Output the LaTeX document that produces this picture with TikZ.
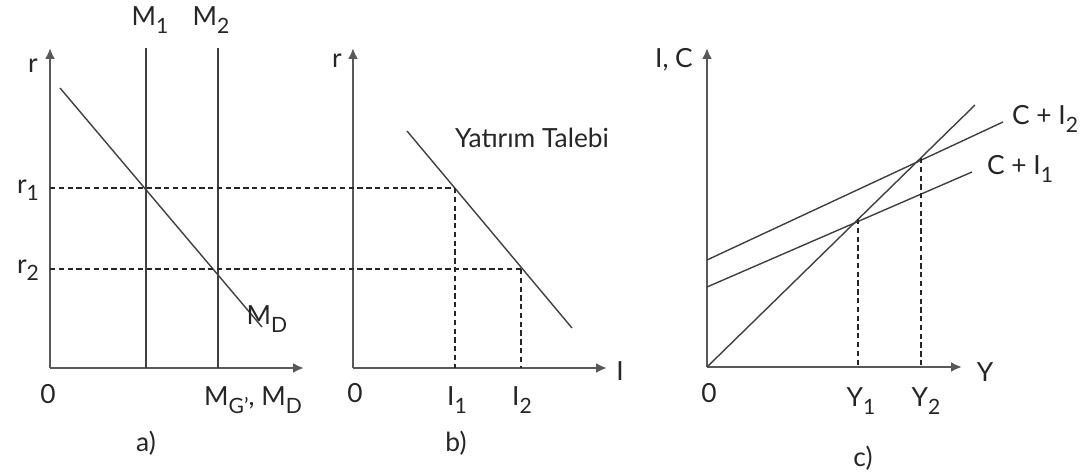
\documentclass[tikz,border=0pt]{standalone}
\usepackage{fontspec}
\setmainfont{Lato}
\usetikzlibrary{arrows.meta}
\newcommand{\lowidx}[1]{\raisebox{-0.55ex}{\fontsize{12}{13}\selectfont #1}}

\begin{document}
\begin{tikzpicture}[x=0.02cm, y=-0.02cm, every node/.style={font=\fontsize{15}{17}\selectfont, text=black!85, inner sep=1pt}, >={Latex[length=2.2mm, width=2mm]},
	axis/.style={draw=black!65, line width=1.3pt, ->},
	curve/.style={draw=black!75, line width=0.8pt},
	guide/.style={draw=black!85, line width=0.7pt, dash pattern=on 3pt off 2pt}]
	\useasboundingbox (0,0) rectangle (1086,472);
	% a) money market
	\coordinate (oA) at (50,368);
	\coordinate (aTop) at (50,48);
	\coordinate (aRight) at (304,368);
	\draw[axis] (oA) -- (aTop);
	\draw[axis] (oA) -- (aRight);
	\coordinate (m1top) at (146,48);
	\coordinate (m1bot) at (146,368);
	\coordinate (m2top) at (218,48);
	\coordinate (m2bot) at (218,368);
	\draw[curve] (m1top) -- (m1bot);
	\draw[curve] (m2top) -- (m2bot);
	\coordinate (mdA) at (60,88);
	\coordinate (mdB) at (262,327);
	\draw[curve] (mdA) -- (mdB);
	% b) investment demand
	\coordinate (oB) at (353,368);
	\coordinate (bTop) at (353,48);
	\coordinate (bRight) at (607,368);
	\draw[axis] (oB) -- (bTop);
	\draw[axis] (oB) -- (bRight);
	\coordinate (idA) at (407,131);
	\coordinate (idB) at (572,328);
	\draw[curve] (idA) -- (idB);
	\coordinate (r1L) at (50,188);
	\coordinate (r1R) at (455,188);
	\coordinate (r2L) at (50,269);
	\coordinate (r2R) at (521,269);
	\coordinate (i1) at (455,368);
	\coordinate (i2) at (521,368);
	\draw[guide] (r1L) -- (r1R);
	\draw[guide] (r2L) -- (r2R);
	\draw[guide] (r1R) -- (i1);
	\draw[guide] (r2R) -- (i2);
	% c) income
	\coordinate (oC) at (707,367);
	\coordinate (cTop) at (707,48);
	\coordinate (cRight) at (962,367);
	\draw[axis] (oC) -- (cTop);
	\draw[axis] (oC) -- (cRight);
	\coordinate (diag) at (975,105);
	\coordinate (ci2A) at (707,260);
	\coordinate (ci2B) at (1003,122);
	\coordinate (ci1A) at (707,287);
	\coordinate (ci1B) at (972,172);
	\draw[curve] (oC) -- (diag);
	\draw[curve] (ci2A) -- (ci2B);
	\draw[curve] (ci1A) -- (ci1B);
	\coordinate (e1) at (858,219);
	\coordinate (e2) at (921,158);
	\coordinate (y1) at (858,367);
	\coordinate (y2) at (921,367);
	\draw[guide] (e1) -- (y1);
	\draw[guide] (e2) -- (y2);
	% labels
	\node (rA) at (33,66) {r};
	\node (M1) at (150,20) {M\lowidx{1}};
	\node (M2) at (211,20) {M\lowidx{2}};
	\node (r1) at (28,190) {r\lowidx{1}};
	\node (r2) at (28,270) {r\lowidx{2}};
	\node (MD) at (267,319) {M\lowidx{D}};
	\node (zA) at (48,394) {0};
	\node (MGD) at (253,400) {M\lowidx{G'}, M\lowidx{D}};
	\node (capA) at (146,443) {a)};
	\node (rB) at (337,61) {r};
	\node (Talebi) at (532,138) {Yatırım Talebi};
	\node (zB) at (355,393) {0};
	\node (I1) at (457,400) {I\lowidx{1}};
	\node (I2) at (522,400) {I\lowidx{2}};
	\node (Iax) at (620,371) {I};
	\node (capB) at (456,443) {b)};
	\node (IC) at (674,60) {I, C};
	\node (CI2) at (1045,119) {C + I\lowidx{2}};
	\node (CI1) at (1020,169) {C + I\lowidx{1}};
	\node (zC) at (709,393) {0};
	\node (Y1) at (861,401) {Y\lowidx{1}};
	\node (Y2) at (926,401) {Y\lowidx{2}};
	\node (Yax) at (985,372) {Y};
	\node (capC) at (863,458) {c)};
\end{tikzpicture}
\end{document}
